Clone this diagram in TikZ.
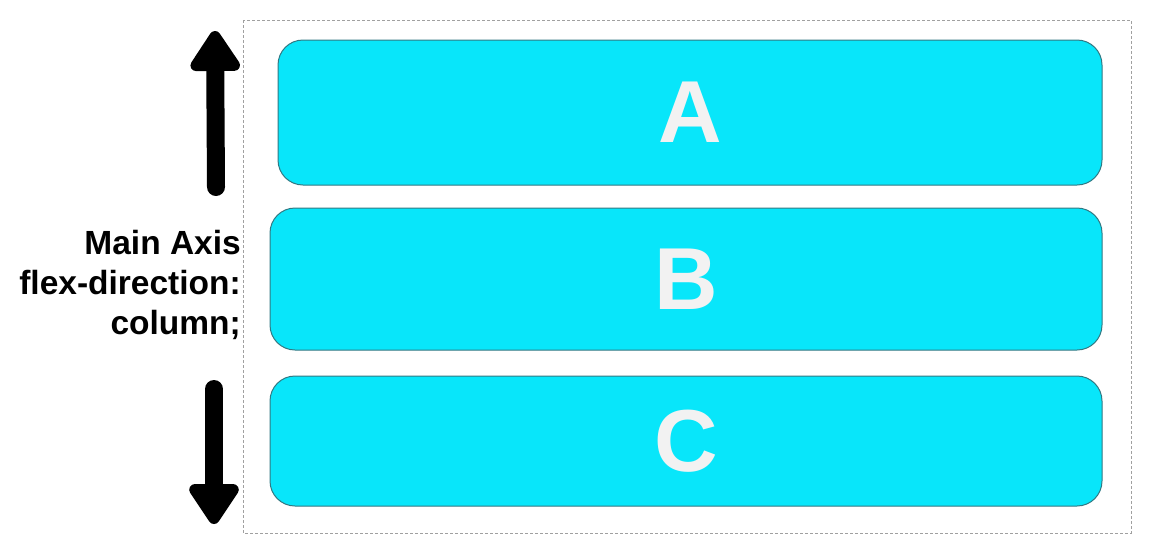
\documentclass[tikz,border=0pt]{standalone}
\usepackage{fontspec}
\setmainfont{Liberation Sans}
\usetikzlibrary{arrows.meta,positioning}
\definecolor{flexcyan}{RGB}{8,230,250}
\definecolor{flexedge}{RGB}{50,120,130}
\definecolor{flexletter}{RGB}{242,242,242}
\definecolor{frame}{RGB}{160,160,160}

\begin{document}
\begin{tikzpicture}[
  x=1pt, y=-1pt,
  item/.style={draw=flexedge, line width=1pt, fill=flexcyan, rounded corners=25pt,
    text=flexletter, font=\fontsize{88}{88}\selectfont\bfseries, inner sep=0pt},
  bigarrow/.style={line width=18pt, -{Triangle[round, length=45pt, width=56pt]}, line cap=round},
  axislabel/.style={align=right, anchor=east, inner sep=0pt,
    font=\fontsize{33.5}{40}\selectfont\bfseries},
]
\useasboundingbox (0,0) rectangle (1150,550);
% container
\draw[frame, line width=0.9pt, dash pattern=on 3pt off 2pt] (243,20) rectangle (1131,533);
% flex items
\node[item, minimum width=824pt, minimum height=145pt] (A) at (690,112.5) {A};
\node[item, minimum width=832pt, minimum height=142pt] (B) at (686,279) {B};
\node[item, minimum width=832pt, minimum height=130pt] (C) at (686,441) {C};
% main axis
\node[axislabel] (axis) at (241,285) {Main Axis\\flex-direction:\\column;};
\coordinate (uptail) at (216,187);
\coordinate (uphead) at (215,31);
\coordinate (downtail) at (214,389);
\coordinate (downhead) at (214,524);
\draw[bigarrow] (uptail) -- (uphead);
\draw[bigarrow] (downtail) -- (downhead);
\end{tikzpicture}
\end{document}
